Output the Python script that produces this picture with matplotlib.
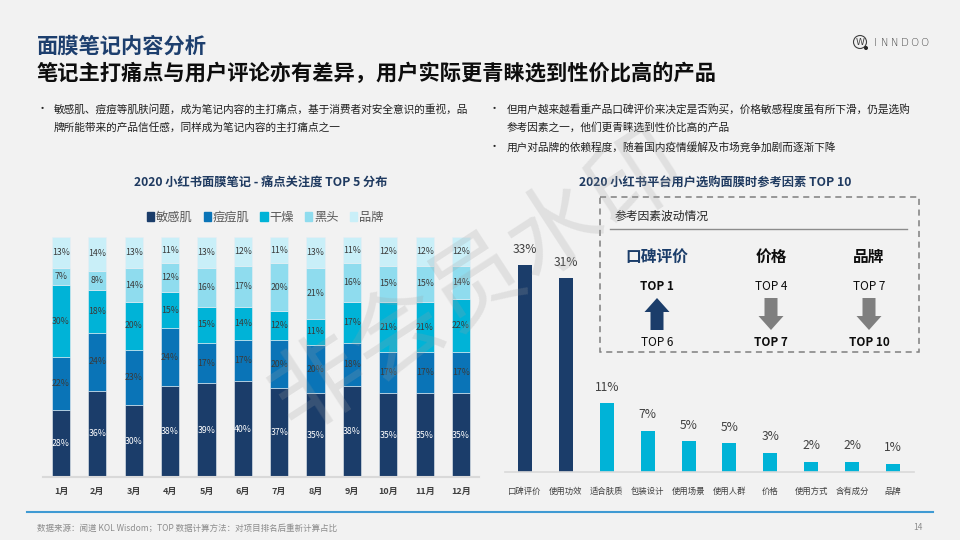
import matplotlib
matplotlib.use("Agg")
import matplotlib.pyplot as plt
from matplotlib.patches import Rectangle, FancyArrow, Circle
from matplotlib.lines import Line2D

plt.rcParams['font.family'] = ['Noto Sans CJK SC', 'DejaVu Sans']

# ---------------- data ----------------
months = ['1月', '2月', '3月', '4月', '5月', '6月', '7月', '8月', '9月', '10月', '11月', '12月']
series_names = ['敏感肌', '痘痘肌', '干燥', '黑头', '品牌']
sensitive = [28, 36, 30, 38, 39, 40, 37, 35, 38, 35, 35, 35]
acne = [22, 24, 23, 24, 17, 17, 20, 20, 18, 17, 17, 17]
dry = [30, 18, 20, 15, 15, 14, 12, 11, 17, 21, 21, 22]
blackhead = [7, 8, 14, 12, 16, 17, 20, 21, 16, 15, 15, 14]
brand = [13, 14, 13, 11, 13, 12, 11, 13, 11, 12, 12, 12]

factors = ['口碑评价', '使用功效', '适合肤质', '包装设计', '使用场景', '使用人群', '价格', '使用方式', '含有成分', '品牌']
factor_share = [33, 30.9, 11, 6.6, 4.9, 4.6, 3.1, 1.6, 1.6, 1.3]

box_items = ['口碑评价', '价格', '品牌']
rank_2019 = ['TOP 1', 'TOP 4', 'TOP 7']
rank_2020 = ['TOP 6', 'TOP 7', 'TOP 10']

# ---------------- style ----------------
NAVY = '#1b3d6a'
BLUE = '#0a74b7'
CYAN = '#00b3d7'
LCYAN = '#8fdcee'
XCYAN = '#c9eff8'
colors = [NAVY, BLUE, CYAN, LCYAN, XCYAN]
BG = '#f2f2f2'
W, H = 960, 540

fig = plt.figure(figsize=(9.6, 5.4), dpi=100, facecolor=BG)

def px_axes(x0, y_top, x1, y_bot):
    return fig.add_axes([x0 / W, 1 - y_bot / H, (x1 - x0) / W, (y_bot - y_top) / H])

# ---------------- left stacked bar chart ----------------
axL = px_axes(42.8, 237, 479.2, 477)
axL.set_facecolor('none')
data = [sensitive, acne, dry, blackhead, brand]
x = list(range(len(months)))
bottom = [0] * len(months)
for i, vals in enumerate(data):
    axL.bar(x, vals, width=0.5, bottom=bottom, color=colors[i],
            edgecolor='#e8eef3', linewidth=0.4, zorder=2)
    tc = 'white' if i == 0 else '#3a3a3a'
    for xi, v, b in zip(x, vals, bottom):
        axL.text(xi, b + v / 2, f'{v}%', ha='center', va='center',
                 fontsize=6.3, color=tc, zorder=3)
    bottom = [b + v for b, v in zip(bottom, vals)]
axL.set_xlim(-0.5, len(months) - 0.5)
axL.set_ylim(0, 100)
for s in ['top', 'right', 'left']:
    axL.spines[s].set_visible(False)
axL.spines['bottom'].set_color('#d9d9d9')
axL.spines['bottom'].set_linewidth(1.5)
axL.set_yticks([])
axL.set_xticks(x)
axL.set_xticklabels(months, fontsize=6.5, color='#404040', fontweight='bold')
axL.tick_params(axis='x', length=0, pad=7)

handles = [Rectangle((0, 0), 1, 1, color=c) for c in colors]
fig.legend(handles, series_names, loc='center', bbox_to_anchor=(265 / W, 1 - 217 / H),
           ncol=5, frameon=False, fontsize=8.8, handlelength=0.6, handleheight=0.7,
           handletextpad=0.15, columnspacing=0.9, labelcolor='#595959')

# ---------------- right bar chart ----------------
axR = px_axes(504.5, 230, 913.5, 472)
axR.set_facecolor('none')
xr = list(range(len(factors)))
rcolors = [NAVY, NAVY] + [CYAN] * (len(factors) - 2)
axR.bar(xr, factor_share, width=0.34, color=rcolors, zorder=2)
for xi, v in zip(xr, factor_share):
    axR.annotate(f'{v:.0f}%', (xi, v), xytext=(0, 11.5), textcoords='offset points',
                 ha='center', va='center', fontsize=8.7, color='#404040')
axR.set_xlim(-0.5, len(factors) - 0.5)
axR.set_ylim(0, 242 / 6.27)
for s in ['top', 'right', 'left']:
    axR.spines[s].set_visible(False)
axR.spines['bottom'].set_color('#d9d9d9')
axR.spines['bottom'].set_linewidth(1.2)
axR.set_yticks([])
axR.set_xticks(xr)
axR.set_xticklabels(factors, fontsize=6, color='#404040')
axR.tick_params(axis='x', length=0, pad=11)

# ---------------- overlay (pixel coordinates) ----------------
ov = fig.add_axes([0, 0, 1, 1], zorder=5)
ov.set_xlim(0, W)
ov.set_ylim(H, 0)
ov.axis('off')
ov.patch.set_alpha(0)

# titles
ov.text(37, 46, '面膜笔记内容分析', fontsize=15.3, fontweight='bold', color='#1d3f6e',
        ha='left', va='center')
ov.text(37, 73, '笔记主打痛点与用户评论亦有差异，用户实际更青睐选到性价比高的产品',
        fontsize=15.3, fontweight='bold', color='#0d0d0d', ha='left', va='center')

# logo
ov.add_patch(Circle((860, 42), 6.5, fill=False, edgecolor='#404040', lw=0.8))
ov.text(860, 42.3, 'W', fontsize=6.5, color='#404040', ha='center', va='center',
        family='DejaVu Sans')
ov.add_patch(Circle((866, 48), 1.3, color='#262626'))
for i, ch in enumerate('INNDOO'):
    ov.text(875 + i * 9.8, 42.5, ch, fontsize=7.5, color='#404040', ha='center',
            va='center', family='DejaVu Sans', fontweight='light')

# bullets
btxt = dict(fontsize=7.7, color='#1f1f1f', ha='left', va='center')
ov.text(37, 109, '•', fontsize=8, color='#262626', ha='left', va='center')
ov.text(54, 109, '敏感肌、痘痘等肌肤问题，成为笔记内容的主打痛点，基于消费者对安全意识的重视，品', **btxt)
ov.text(54, 128, '牌所能带来的产品信任感，同样成为笔记内容的主打痛点之一', **btxt)
ov.text(489, 109, '•', fontsize=8, color='#262626', ha='left', va='center')
ov.text(507, 109, '但用户越来越看重产品口碑评价来决定是否购买，价格敏感程度虽有所下滑，仍是选购', **btxt)
ov.text(507, 128, '参考因素之一，他们更青睐选到性价比高的产品', **btxt)
ov.text(489, 147, '•', fontsize=8, color='#262626', ha='left', va='center')
ov.text(507, 147, '用户对品牌的依赖程度，随着国内疫情缓解及市场竞争加剧而逐渐下降', **btxt)

# chart titles
ov.text(261, 183, '2020 小红书面膜笔记 - 痛点关注度 TOP 5 分布', fontsize=8.8,
        fontweight='bold', color='#1f3a60', ha='center', va='center')
ov.text(715, 183, '2020 小红书平台用户选购面膜时参考因素 TOP 10', fontsize=8.8,
        fontweight='bold', color='#1f3a60', ha='center', va='center')

# dashed box
ov.add_patch(Rectangle((600, 197), 319, 155, fill=False, edgecolor='#7f7f7f',
                       lw=1.1, linestyle=(0, (4, 3))))
ov.text(615, 216, '参考因素波动情况', fontsize=8.5, color='#262626', ha='left', va='center')
ov.add_line(Line2D([610, 907], [229, 229], color='#8c8c8c', lw=1.0))
col_x = [657, 771, 869]
for i, (cx, name, r1, r2) in enumerate(zip(col_x, box_items, rank_2019, rank_2020)):
    up = (i == 0)
    ov.text(cx, 257, name, fontsize=11.3, fontweight='bold',
            color=NAVY if up else '#0d0d0d', ha='center', va='center')
    ov.text(cx, 286, r1, fontsize=8.5, fontweight='bold' if up else 'normal',
            color='#0d0d0d', ha='center', va='center')
    ov.text(cx, 342, r2, fontsize=8.5, fontweight='normal' if up else 'bold',
            color='#0d0d0d', ha='center', va='center')
    if up:
        arr = FancyArrow(cx, 330, 0, -32, width=13, head_width=25, head_length=14,
                         length_includes_head=True, color=NAVY, lw=0)
    else:
        arr = FancyArrow(cx, 298, 0, 32, width=13, head_width=25, head_length=14,
                         length_includes_head=True, color='#7f7f7f', lw=0)
    ov.add_patch(arr)

# footer
ov.add_line(Line2D([27, 933], [512, 512], color='#3f9ad3', lw=1.5))
ov.text(37, 528, '数据来源：闻道 KOL Wisdom；TOP 数据计算方法：对项目排名后重新计算占比',
        fontsize=6.1, color='#8c8c8c', ha='left', va='center')
ov.text(918, 528, '14', fontsize=6, color='#8c8c8c', ha='center', va='center')

# watermark
ov.text(478, 282, '非会员水印', fontsize=68, rotation=33, color='#a0a0a0', alpha=0.22,
        ha='center', va='center', zorder=10)

fig.savefig('out.png', dpi=100, facecolor=BG)
